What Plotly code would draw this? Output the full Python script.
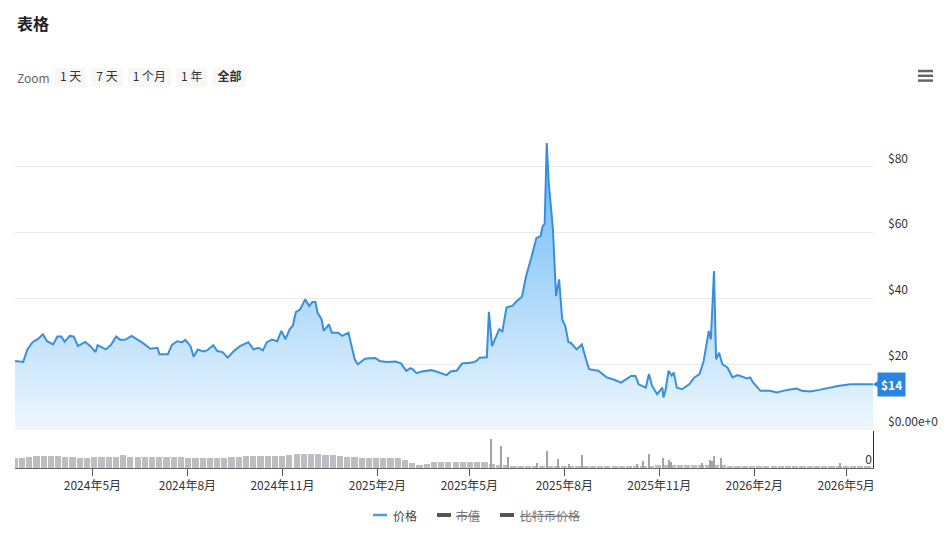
import plotly.graph_objects as go
import pandas as pd

# ---------------- data ----------------
price_dates = [
    "2024-02-16", "2024-02-24", "2024-02-28", "2024-03-04", "2024-03-09", "2024-03-14", "2024-03-18",
    "2024-03-24", "2024-03-28", "2024-04-01", "2024-04-04", "2024-04-09", "2024-04-13", "2024-04-17",
    "2024-04-24", "2024-04-29", "2024-05-04", "2024-05-06", "2024-05-14", "2024-05-19", "2024-05-24",
    "2024-05-28", "2024-06-02", "2024-06-08", "2024-06-14", "2024-06-19", "2024-06-26", "2024-07-03",
    "2024-07-05", "2024-07-13", "2024-07-17", "2024-07-22", "2024-07-27", "2024-07-30", "2024-08-04",
    "2024-08-07", "2024-08-11", "2024-08-16", "2024-08-20", "2024-08-26", "2024-08-30", "2024-09-04",
    "2024-09-09", "2024-09-15", "2024-09-21", "2024-09-29", "2024-10-04", "2024-10-09", "2024-10-13",
    "2024-10-17", "2024-10-22", "2024-10-27", "2024-10-31", "2024-11-04", "2024-11-08", "2024-11-11",
    "2024-11-14", "2024-11-18", "2024-11-23", "2024-11-27", "2024-11-30", "2024-12-03", "2024-12-05",
    "2024-12-09", "2024-12-11", "2024-12-16", "2024-12-19", "2024-12-25", "2024-12-29", "2025-01-04",
    "2025-01-07", "2025-01-10", "2025-01-13", "2025-01-20", "2025-01-25", "2025-01-30", "2025-02-03",
    "2025-02-10", "2025-02-19", "2025-02-24", "2025-03-01", "2025-03-05", "2025-03-07", "2025-03-11",
    "2025-03-16", "2025-03-25", "2025-03-30", "2025-04-04", "2025-04-09", "2025-04-13", "2025-04-19",
    "2025-04-24", "2025-04-29", "2025-05-04", "2025-05-08", "2025-05-11", "2025-05-18", "2025-05-20",
    "2025-05-23", "2025-05-27", "2025-05-30", "2025-06-02", "2025-06-06", "2025-06-12", "2025-06-16",
    "2025-06-21", "2025-06-25", "2025-06-30", "2025-07-05", "2025-07-09", "2025-07-11", "2025-07-13",
    "2025-07-15", "2025-07-17", "2025-07-19", "2025-07-21", "2025-07-24", "2025-07-27", "2025-07-30",
    "2025-08-02", "2025-08-05", "2025-08-07", "2025-08-13", "2025-08-18", "2025-08-22", "2025-08-25",
    "2025-09-03", "2025-09-11", "2025-09-19", "2025-09-25", "2025-10-05", "2025-10-09", "2025-10-12",
    "2025-10-19", "2025-10-22", "2025-10-25", "2025-10-30", "2025-11-04", "2025-11-05", "2025-11-07",
    "2025-11-10", "2025-11-13", "2025-11-15", "2025-11-18", "2025-11-23", "2025-11-30", "2025-12-05",
    "2025-12-10", "2025-12-14", "2025-12-17", "2025-12-19", "2025-12-21", "2025-12-24", "2025-12-26",
    "2025-12-29", "2026-01-01", "2026-01-06", "2026-01-11", "2026-01-16", "2026-01-25", "2026-01-28",
    "2026-01-31", "2026-02-07", "2026-02-16", "2026-02-23", "2026-03-05", "2026-03-14", "2026-03-19",
    "2026-03-27", "2026-04-05", "2026-04-15", "2026-04-23", "2026-05-05", "2026-05-17", "2026-05-27",
]
price_values = [
    21.0, 20.7, 24.5, 26.7, 27.6, 29.1, 27.0,
    26.0, 28.4, 28.4, 26.8, 28.6, 28.4, 25.5,
    26.8, 25.5, 23.7, 25.8, 24.5, 25.9, 28.4,
    27.4, 27.5, 28.6, 27.4, 26.4, 24.7, 25.0,
    23.0, 23.0, 25.9, 27.0, 26.7, 27.4, 25.5,
    22.3, 24.5, 23.9, 24.2, 25.8, 24.0, 23.7,
    22.0, 24.0, 25.5, 26.7, 24.5, 25.0, 24.2,
    26.7, 27.5, 27.0, 30.1, 27.6, 30.6, 31.6,
    35.8, 36.6, 39.7, 37.7, 38.9, 38.9, 35.7,
    33.6, 30.1, 32.1, 29.6, 29.6, 28.6, 29.6,
    25.5, 21.5, 20.0, 21.7, 21.8, 21.9, 21.0,
    20.7, 20.8, 20.2, 18.0, 18.8, 18.5, 17.3,
    17.8, 18.2, 17.8, 17.2, 16.7, 17.8, 18.1,
    20.2, 20.3, 20.5, 21.0, 22.0, 22.1, 35.9,
    25.5, 28.4, 30.6, 30.0, 37.2, 37.8, 39.2,
    40.5, 46.8, 52.3, 58.4, 58.9, 61.9, 62.7,
    87.2, 75.0, 68.0, 61.0, 40.7, 45.8, 33.6,
    31.6, 26.7, 26.6, 24.5, 26.0, 21.5, 18.5,
    18.0, 16.0, 15.2, 14.4, 16.5, 16.4, 13.9,
    12.9, 17.0, 13.4, 10.9, 12.9, 9.9, 12.0,
    18.0, 16.5, 17.5, 12.9, 12.4, 13.9, 16.0,
    17.0, 21.0, 26.0, 30.1, 27.6, 48.3, 21.5,
    23.5, 20.0, 19.0, 16.0, 16.7, 15.7, 16.0,
    14.4, 11.9, 11.9, 11.4, 12.2, 12.6, 11.9,
    11.7, 12.2, 12.9, 13.4, 13.9, 13.9, 13.9,
]

# weekly trading volume (relative units), starting 2024-02-16
volume_start = "2024-02-16"
volume_weekly = [
    10, 10, 11, 11.5, 11.5, 11.5, 11.5, 11, 11, 10,
    10, 11, 11, 11, 11, 13, 11, 11, 11, 11,
    11, 11, 11, 11, 10, 10, 10, 10, 10, 10,
    10.5, 11, 11.5, 11.5, 11.5, 11.5, 12, 12, 13, 14,
    14, 14, 13.5, 12.5, 12.5, 12, 11, 10.5, 10, 10,
    10, 10, 10, 9.5, 8, 5, 3, 4, 6, 5.5,
    5.5, 6, 5.5, 5.5, 5.5, 5.5, 4, 3, 2.5, 2,
    2, 2, 2, 2, 2, 2, 1.5, 1.5, 1.5, 1.5,
    1.5, 1.5, 1.5, 1.5, 2, 2, 2, 2, 2, 2.5,
    2.5, 2.5, 2.5, 2.5, 2.5, 2.5, 2.5, 2.5, 2.5, 1.5,
    1.5, 1.5, 1.5, 1.5, 1.5, 1.5, 2, 2, 2, 1,
    1, 1, 1, 1, 1, 1, 1, 1, 1,
]
spike_dates = [
    "2025-05-22", "2025-05-31", "2025-06-07", "2025-07-05", "2025-07-15", "2025-07-26",
    "2025-08-05", "2025-08-18", "2025-10-10", "2025-10-16", "2025-10-22", "2025-11-04",
    "2025-11-10", "2025-11-12", "2025-12-12", "2025-12-20", "2025-12-22", "2025-12-24",
    "2025-12-31", "2026-04-25",
]
spike_values = [29, 22, 11, 5, 17, 9, 4, 13, 4, 7, 14, 10, 8, 6, 5, 8, 7, 12, 10, 5]

tick_dates = ["2024-05-01", "2024-08-01", "2024-11-01", "2025-02-01", "2025-05-01",
              "2025-08-01", "2025-11-01", "2026-02-01", "2026-05-01"]
tick_labels = ["2024年5月", "2024年8月", "2024年11月", "2025年2月", "2025年5月",
               "2025年8月", "2025年11月", "2026年2月", "2026年5月"]
price_ticks = [0, 20, 40, 60, 80, 100]
price_tick_labels = ["$0.00e+0", "$20", "$40", "$60", "$80", ""]

legend_names = ["价格", "市值", "比特币价格"]
title_text = "表格"
last_label = "$14"

# ---------------- figure ----------------
FONT = "Noto Sans CJK SC, Noto Sans, sans-serif"
vol_dates = pd.date_range(volume_start, periods=len(volume_weekly), freq="7D")
DAY_MS = 86400000

# pixel helpers for decorations outside the plot area (plot: x 15..873, y 100..468)
def px_x(p):
    return (p - 15) / 858.0

def px_y(p):
    return (468 - p) / 368.0

fig = go.Figure()

fig.add_trace(go.Bar(
    x=vol_dates, y=volume_weekly, yaxis="y2", width=6 * DAY_MS,
    marker=dict(color="#bdbdc3", line=dict(width=0)), showlegend=False, hoverinfo="skip",
))
fig.add_trace(go.Bar(
    x=spike_dates, y=spike_values, yaxis="y2", width=1 * DAY_MS,
    marker=dict(color="#a3a3a8", line=dict(width=0)), showlegend=False, hoverinfo="skip",
))

fig.add_trace(go.Scatter(
    x=price_dates, y=price_values, name=legend_names[0], mode="lines",
    line=dict(color="#3a8ee0", width=2),
    fill="tozeroy",
    fillgradient=dict(type="vertical",
                      colorscale=[[0, "rgba(236,246,254,0.9)"], [1, "rgba(88,176,245,0.95)"]]),
    showlegend=False,
))

shapes = []
# menu icon
for yy in (71, 75.8, 80.6):
    shapes.append(dict(type="line", xref="paper", yref="paper",
                       x0=px_x(918), x1=px_x(933), y0=px_y(yy), y1=px_y(yy),
                       line=dict(color="#666666", width=2.5)))
# pointer of the last-value label
shapes.append(dict(type="path", xref="paper", yref="y",
                   path="M {a},{v} L {b},{hi} L {b},{lo} Z".format(
                       a=px_x(873), b=px_x(878), v=price_values[-1],
                       hi=price_values[-1] + 1.0, lo=price_values[-1] - 1.0),
                   fillcolor="#2b84e0", line=dict(width=0)))
# legend symbols
LEG_Y = 515
shapes.append(dict(type="line", xref="paper", yref="paper",
                   x0=px_x(373), x1=px_x(387), y0=px_y(LEG_Y), y1=px_y(LEG_Y),
                   line=dict(color="#3f9ff0", width=2.5)))
for sx in (437, 500):
    shapes.append(dict(type="line", xref="paper", yref="paper",
                       x0=px_x(sx), x1=px_x(sx + 14), y0=px_y(LEG_Y), y1=px_y(LEG_Y),
                       line=dict(color="#555555", width=4)))

annotations = [
    dict(text="<b>" + title_text + "</b>", xref="paper", yref="paper", x=0, y=px_y(23),
         xanchor="left", yanchor="middle", showarrow=False,
         font=dict(size=16, color="#222222")),
    dict(text="Zoom", xref="paper", yref="paper", x=0, y=px_y(77),
         xanchor="left", yanchor="middle", showarrow=False,
         font=dict(size=12, color="#666666")),
    dict(text="<b>" + last_label + "</b>", xref="paper", yref="y", x=1, y=price_values[-1],
         xanchor="left", yanchor="middle", xshift=4, showarrow=False,
         bgcolor="#2b84e0", borderpad=3, font=dict(size=12, color="white")),
    dict(text=legend_names[0], xref="paper", yref="paper", x=px_x(391), y=px_y(LEG_Y),
         xanchor="left", yanchor="middle", showarrow=False,
         font=dict(size=12, color="#444444")),
]
for tx, nm in ((454, legend_names[1]), (518, legend_names[2])):
    annotations.append(dict(
        text='<span style="text-decoration:line-through">' + nm + '</span>',
        xref="paper", yref="paper", x=px_x(tx), y=px_y(LEG_Y),
        xanchor="left", yanchor="middle", showarrow=False,
        font=dict(size=12, color="#777777")))

fig.update_layout(
    width=950, height=536,
    margin=dict(l=15, r=77, t=100, b=68),
    paper_bgcolor="white", plot_bgcolor="white",
    font=dict(family=FONT, size=12, color="#333333"),
    bargap=0,
    showlegend=False,
    xaxis=dict(
        type="date", anchor="y2", range=["2024-02-16", "2026-05-27"],
        tickvals=tick_dates, ticktext=tick_labels,
        ticks="outside", ticklen=7, tickcolor="#555555", tickwidth=1,
        showline=True, linecolor="#666666", linewidth=1,
        showgrid=False, zeroline=False,
        tickfont=dict(size=12, color="#333333"),
        rangeselector=dict(
            x=px_x(55), xanchor="left", y=px_y(77), yanchor="middle",
            bgcolor="#f7f7f7", activecolor="#e6e9f8",
            font=dict(size=12, color="#333333"),
            buttons=[
                dict(count=1, label="1 天", step="day", stepmode="backward"),
                dict(count=7, label="7 天", step="day", stepmode="backward"),
                dict(count=1, label="1 个月", step="month", stepmode="backward"),
                dict(count=1, label="1 年", step="year", stepmode="backward"),
                dict(label="<b>全部</b>", step="all"),
            ],
        ),
    ),
    yaxis=dict(
        domain=[0.1005, 1], side="right", range=[-0.3, 100.3],
        tickvals=price_ticks, ticktext=price_tick_labels,
        ticklabelposition="outside top", ticks="", ticklabelstandoff=14,
        showgrid=True, gridcolor="#e8e8e8", gridwidth=1, zeroline=False,
        tickfont=dict(size=12, color="#333333"),
    ),
    yaxis2=dict(
        domain=[0, 0.1005], side="right", range=[0, 37],
        tickvals=[0], ticktext=["0"], ticklabelposition="inside top", ticks="",
        showgrid=False, zeroline=False,
        showline=True, linecolor="#333333", linewidth=1,
        tickfont=dict(size=12, color="#333333"),
    ),
    shapes=shapes,
    annotations=annotations,
)

fig.write_html("out.html", config={"displayModeBar": False},
               post_script="document.body.style.margin='0';")
